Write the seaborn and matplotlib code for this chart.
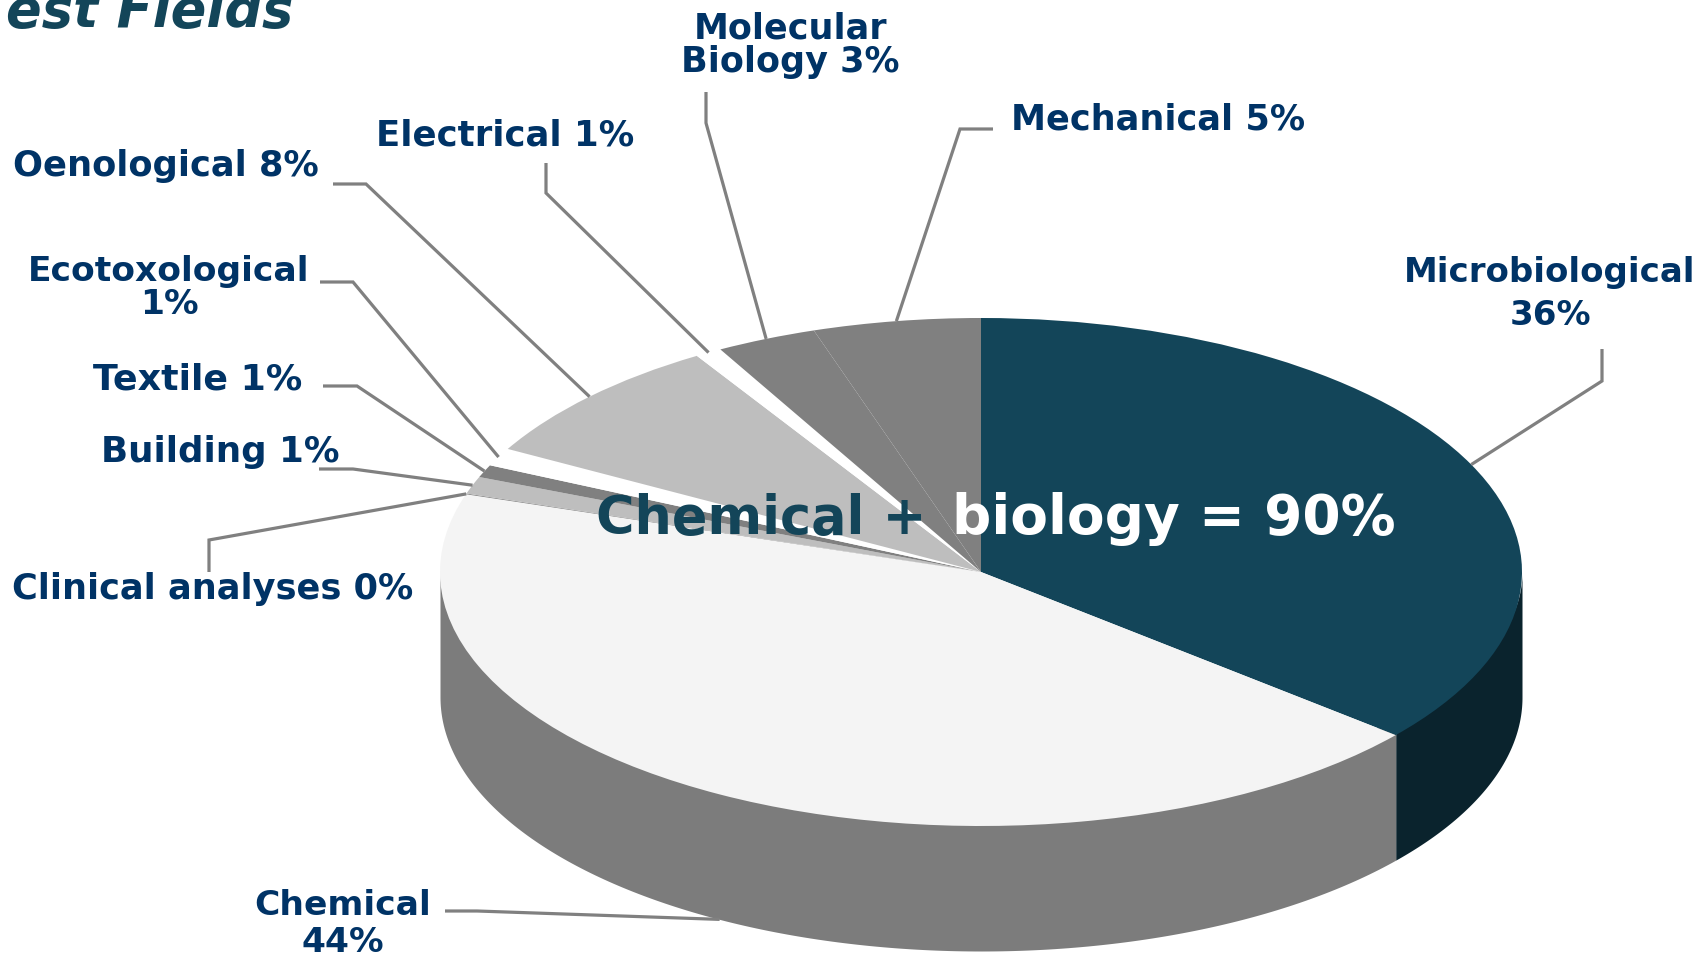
import numpy as np
import matplotlib
matplotlib.use("Agg")
import matplotlib.pyplot as plt
import seaborn as sns

# slices, clockwise from 12 o'clock
fields = ["Microbiological", "Chemical", "Clinical analyses", "Building", "Textile",
          "Ecotoxological", "Oenological", "Electrical", "Molecular Biology", "Mechanical"]
shares = [36.1, 43.85, 0.05, 1.1, 0.8, 1.15, 8.15, 0.8, 3.0, 5.0]
top_colors = ["#134559", "#F4F4F4", "#808080", "#BEBEBE", "#808080",
              "#FFFFFF", "#BEBEBE", "#FFFFFF", "#808080", "#808080"]
side_colors = ["#0A232D", "#7C7C7C", "#7C7C7C", "#7C7C7C", "#7C7C7C",
               "#7C7C7C", "#7C7C7C", "#7C7C7C", "#7C7C7C", "#7C7C7C"]
label_text = ["Microbiological\n36%", "Chemical\n44%", "Clinical analyses 0%", "Building 1%", "Textile 1%",
              "Ecotoxological\n1%", "Oenological 8%", "Electrical 1%", "Molecular\nBiology 3%", "Mechanical 5%"]
label_x = [1550, 343, 213, 220, 198, 169, 166, 505, 790, 1158]
label_y = [294, 924, 589, 452, 379, 288, 166, 135, 45, 119]
label_gap = [1.35, 1.18, 1.0, 1.0, 1.0, 0.97, 1.0, 1.0, 0.97, 1.0]
label_size = [24.5, 24.8, 25.3, 25.7, 26.2, 24.8, 25.4, 25.6, 25.2, 25.3]
# first two points of each leader (text side)
leader_x = [[1602, 1602], [445, 477], [209, 209], [319, 353], [323, 357],
            [320, 353], [333, 366], [546, 546], [706, 706], [993, 960]]
leader_y = [[349, 381], [911, 911], [572, 540], [469, 469], [386, 386],
            [282, 282], [184, 184], [163, 193], [92, 123], [129, 129]]

W, H = 1701, 959
cx, cy, rx, ry, depth = 981, 572, 541, 254, 125

sns.set_theme(style="white")
plt.rcParams["font.family"] = ["DejaVu Sans"]

fig = plt.figure(figsize=(W / 100, H / 100), dpi=100)
ax = fig.add_axes([0, 0, 1, 1])

edges = np.cumsum([0] + shares) / sum(shares) * 2 * np.pi

# side wall, only the front half shows; top edge tucked under the pie
for i in range(len(shares)):
    lo, hi = max(edges[i], np.pi / 2), min(edges[i + 1], 3 * np.pi / 2)
    if hi <= lo:
        continue
    t = np.linspace(lo, hi, 200)
    x = np.sin(t)
    y = np.cos(t)
    ax.fill_between(x, y * 0.9, y - depth / ry, color=side_colors[i], lw=0, zorder=1)

ax.pie(shares, colors=sns.color_palette(top_colors), startangle=90, counterclock=False,
       radius=1, wedgeprops={"linewidth": 0, "zorder": 2})
ax.set_aspect("auto")
ax.set_xlim(-cx / rx, (W - cx) / rx)
ax.set_ylim((cy - H) / ry, cy / ry)
ax.axis("off")

# overlay in pixels for texts and leaders
ov = fig.add_axes([0, 0, 1, 1], facecolor="none")
ov.set_xlim(0, W)
ov.set_ylim(H, 0)
ov.axis("off")

for i in range(len(shares)):
    mid = (edges[i] + edges[i + 1]) / 2
    end_x = cx + rx * np.sin(mid)
    end_y = cy - ry * np.cos(mid)
    if fields[i] == "Chemical":
        end_y += depth
    ov.plot(leader_x[i] + [end_x], leader_y[i] + [end_y], color="#808080", lw=2.3,
            solid_joinstyle="miter", solid_capstyle="butt", zorder=3)
    ov.text(label_x[i], label_y[i], label_text[i], color="#003366", fontsize=label_size[i], fontweight="bold",
            ha="center", va="center", linespacing=label_gap[i], zorder=4)

ov.text(596, 534, "Chemical +", color="#134559", fontsize=37.8, fontweight="bold", va="baseline", zorder=4)
ov.text(952, 534, "biology = 90%", color="white", fontsize=39.5, fontweight="bold", va="baseline", zorder=4)
ov.text(6, 27, "est Fields", color="#134559", fontsize=37.9, fontweight="bold", fontstyle="italic",
        va="baseline", zorder=4)

fig.savefig("out.png", dpi=100)
